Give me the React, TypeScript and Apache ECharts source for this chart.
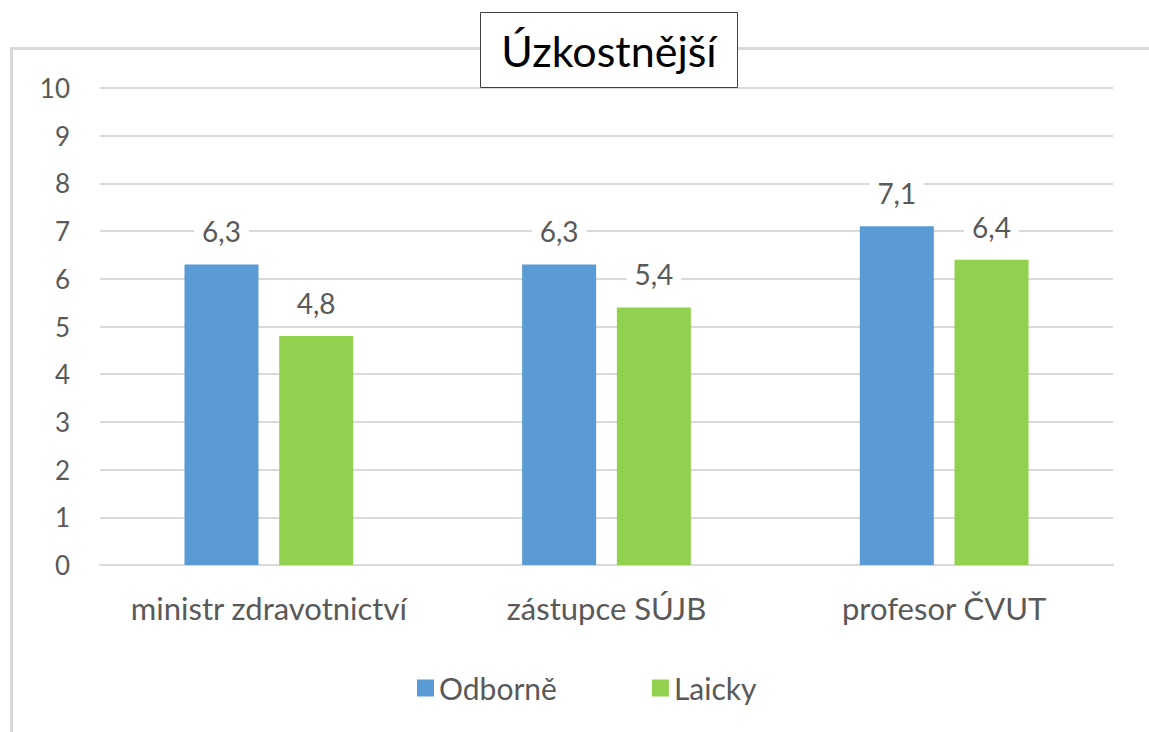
import React, { useEffect, useRef } from "react";
import * as echarts from "echarts";

const categories = ["ministr zdravotnictví", "zástupce SÚJB", "profesor ČVUT"];
const odborne = [6.3, 6.3, 7.1];
const laicky = [4.8, 5.4, 6.4];
const seriesNames = ["Odborně", "Laicky"];
const titleText = "Úzkostnější";

const FONT = "Lato, 'Noto Sans', sans-serif";
const GREY = "#595959";

export default function App() {
  const ref = useRef<HTMLDivElement>(null);
  useEffect(() => {
    document.body.style.margin = "0";
    const chart = echarts.init(ref.current!, null, { renderer: "svg" });
    const label = {
      show: true,
      position: "top" as const,
      distance: 17,
      fontSize: 28,
      fontFamily: FONT,
      color: GREY,
      backgroundColor: "#fff",
      padding: [2, 8],
      formatter: (p: any) => String(p.value).replace(".", ","),
    };
    chart.setOption({
      animation: false,
      backgroundColor: "#fff",
      textStyle: { fontFamily: FONT },
      grid: { left: 100, right: 36, top: 88, bottom: 167 },
      legend: {
        data: seriesNames,
        left: 412,
        top: 668,
        itemWidth: 17,
        itemHeight: 17,
        itemGap: 95,
        icon: "rect",
        textStyle: { fontSize: 30, color: GREY, fontFamily: FONT },
      },
      xAxis: {
        type: "category",
        data: categories,
        axisLine: { show: true, lineStyle: { color: "#d9d9d9", width: 2 } },
        axisTick: { show: false },
        axisLabel: {
          fontSize: 31,
          color: GREY,
          fontFamily: FONT,
          margin: 27,
          interval: 0,
          hideOverlap: false,
        },
      },
      yAxis: {
        type: "value",
        min: 0,
        max: 10,
        interval: 1,
        axisLine: { show: false },
        axisTick: { show: false },
        axisLabel: { fontSize: 26, color: GREY, fontFamily: FONT, margin: 30 },
        splitLine: { lineStyle: { color: "#d9d9d9", width: 2 } },
      },
      series: [
        {
          name: seriesNames[0],
          type: "bar",
          data: odborne,
          barWidth: 74,
          barGap: "28%",
          itemStyle: { color: "#5B9BD5" },
          label,
        },
        {
          name: seriesNames[1],
          type: "bar",
          data: laicky,
          barWidth: 74,
          itemStyle: { color: "#92D050" },
          label,
        },
      ],
      graphic: [
        {
          type: "rect",
          z: -1,
          silent: true,
          shape: { x: 11.5, y: 48.5, width: 1160, height: 720 },
          style: { fill: "none", stroke: "#d9d9d9", lineWidth: 3 },
        },
        {
          type: "rect",
          z: 100,
          shape: { x: 480.5, y: 12.5, width: 257, height: 75 },
          style: { fill: "#fff", stroke: "#404040", lineWidth: 1 },
        },
        {
          type: "text",
          z: 101,
          x: 609,
          y: 50,
          style: {
            text: titleText,
            fontSize: 43,
            fontFamily: FONT,
            fill: "#000",
            align: "center",
            verticalAlign: "middle",
          },
        },
      ],
    });
    return () => chart.dispose();
  }, []);
  return <div ref={ref} style={{ width: 1149, height: 732 }} />;
}
